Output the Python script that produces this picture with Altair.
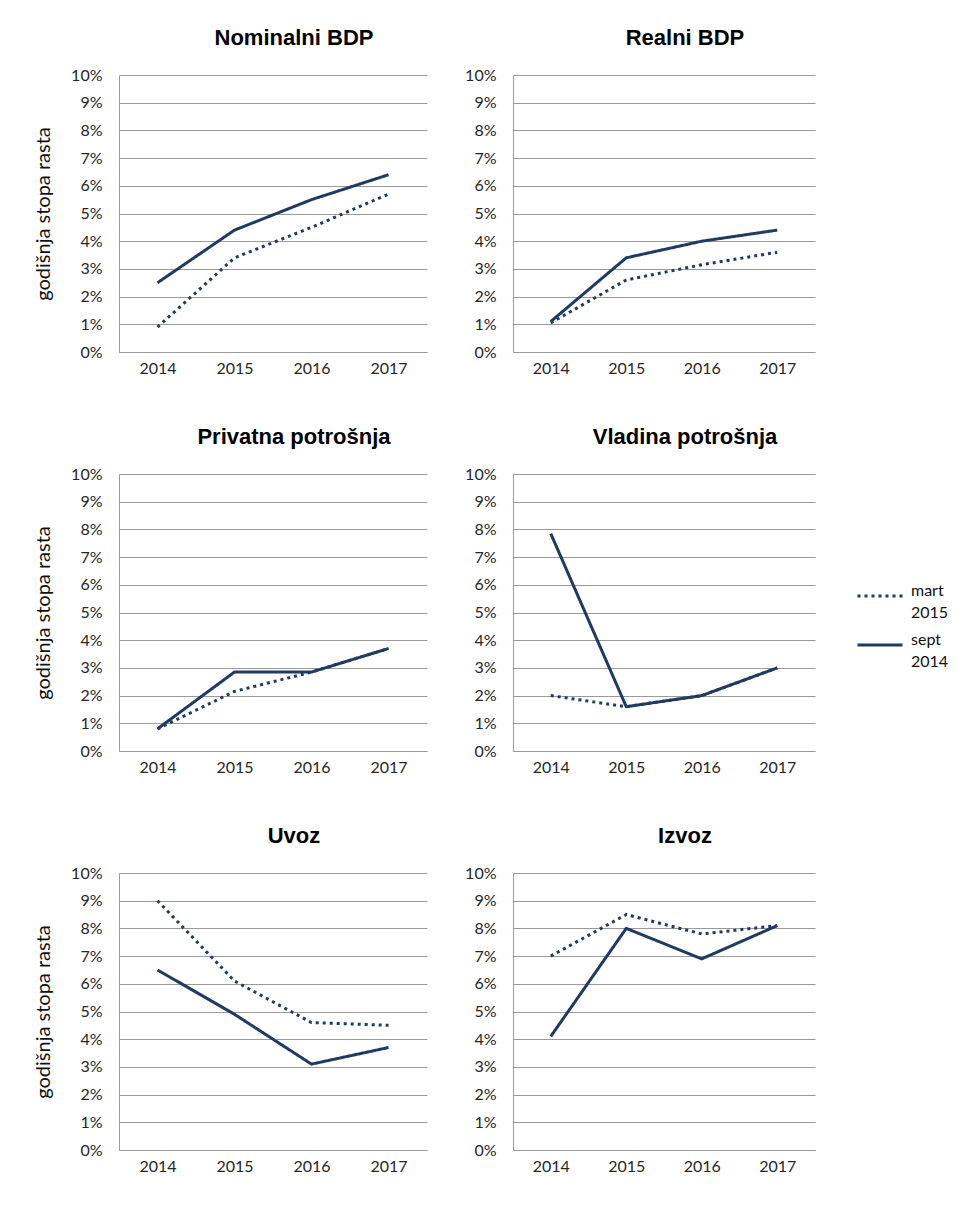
import altair as alt
import pandas as pd

years = ["2014", "2015", "2016", "2017"]
series_names = ["mart 2015", "sept 2014"]

titles = ["Nominalni BDP", "Realni  BDP", "Privatna potrošnja",
          "Vladina potrošnja", "Uvoz", "Izvoz"]

nominal_mart = [0.9, 3.4, 4.5, 5.7]
nominal_sept = [2.5, 4.4, 5.5, 6.4]
real_mart = [1.05, 2.6, 3.15, 3.6]
real_sept = [1.1, 3.4, 4.0, 4.4]
priv_mart = [0.8, 2.15, 2.85, 3.7]
priv_sept = [0.8, 2.85, 2.85, 3.7]
gov_mart = [2.0, 1.6, 2.0, 3.0]
gov_sept = [7.85, 1.6, 2.0, 3.0]
imp_mart = [9.0, 6.1, 4.6, 4.5]
imp_sept = [6.5, 4.9, 3.1, 3.7]
exp_mart = [7.0, 8.5, 7.8, 8.1]
exp_sept = [4.1, 8.0, 6.9, 8.1]

y_ticks = [0, 0.01, 0.02, 0.03, 0.04, 0.05, 0.06, 0.07, 0.08, 0.09, 0.1]
y_title = "godišnja stopa rasta"

LINE = "#1F3A63"
FONT = "Lato"


def make_df(mart, sept):
    rows = []
    for name, vals in zip(series_names, [mart, sept]):
        for yr, v in zip(years, vals):
            rows.append({"year": yr, "series": name, "value": v / 100})
    return pd.DataFrame(rows)


def panel(title, mart, sept, left, show_legend=False):
    df = make_df(mart, sept)
    width = 308 if left else 302
    if show_legend:
        legend = alt.Legend(title=None, orient="none", legendX=343, legendY=98,
                            symbolType="stroke", symbolSize=2025,
                            symbolStrokeWidth=3, symbolStrokeColor=LINE,
                            labelFont=FONT, labelFontSize=16, labelColor="#111",
                            labelBaseline="alphabetic", labelOffset=7,
                            labelExpr="split(datum.label, ' ')",
                            rowPadding=0, padding=0)
    else:
        legend = None
    y_axis = alt.Axis(values=y_ticks, format=".0%", title=y_title if left else None)
    chart = alt.Chart(df, title=alt.TitleParams(text=title, dx=21)).mark_line(
        color=LINE, strokeWidth=3, strokeJoin="round"
    ).encode(
        x=alt.X("year:O", sort=years, scale=alt.Scale(padding=0.5),
                axis=alt.Axis(title=None)),
        y=alt.Y("value:Q", scale=alt.Scale(domain=[0, 0.1], nice=False), axis=y_axis),
        strokeDash=alt.StrokeDash("series:N",
                                  scale=alt.Scale(domain=series_names,
                                                  range=[[3, 4], [1, 0]]),
                                  legend=legend),
    ).properties(width=width, height=277)
    return chart


p = [
    panel(titles[0], nominal_mart, nominal_sept, True),
    panel(titles[1], real_mart, real_sept, False),
    panel(titles[2], priv_mart, priv_sept, True),
    panel(titles[3], gov_mart, gov_sept, False, show_legend=True),
    panel(titles[4], imp_mart, imp_sept, True),
    panel(titles[5], exp_mart, exp_sept, False),
]

rows = [
    alt.hconcat(p[i], p[i + 1], spacing=37).resolve_scale(strokeDash="independent")
    for i in (0, 2, 4)
]

chart = alt.vconcat(*rows, spacing=50).resolve_scale(
    strokeDash="independent"
).properties(
    padding={"left": 25, "top": 19, "right": 5, "bottom": 5},
    background="white",
).configure(
    style={"guide-label": {"lineHeight": 22}}
).configure_view(
    stroke=None
).configure_axis(
    labelFont=FONT, labelFontSize=16, labelColor="#262626",
    titleFont=FONT, titleFontSize=20, titleFontWeight="normal", titleColor="#111",
    domainColor="#9a9a9a", gridColor="#9a9a9a", ticks=False, tickSize=0,
).configure_axisX(
    grid=False, labelAngle=0, labelPadding=8,
).configure_axisY(
    labelPadding=17, titlePadding=17,
).configure_title(
    font="Liberation Sans", fontSize=22, fontWeight="bold", color="#000",
    offset=17, anchor="middle",
)

chart.save("out.html", embed_options={"renderer": "svg", "actions": False})
